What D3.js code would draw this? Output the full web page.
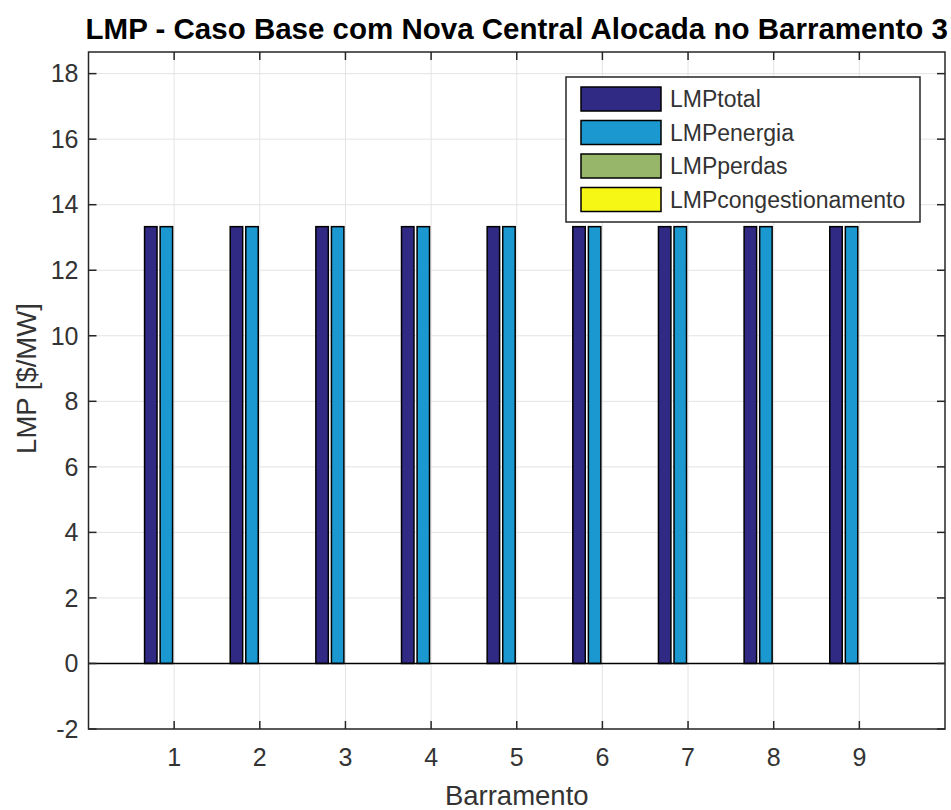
<!DOCTYPE html>
<html>
<head>
<meta charset="utf-8">
<script src="https://cdn.jsdelivr.net/npm/d3@7"></script>
<style>
  html, body { margin: 0; padding: 0; background: #fff; }
  svg { display: block; }
  text { font-family: "Liberation Sans", Arial, Helvetica, sans-serif; }
</style>
</head>
<body>
<div id="chart"></div>
<script>
"use strict";
// bus numbers and LMP components ($/MW)
var barramentos = [1, 2, 3, 4, 5, 6, 7, 8, 9];
var lmpTotal = [13.33, 13.33, 13.33, 13.33, 13.33, 13.33, 13.33, 13.33, 13.33];
var lmpEnergia = [13.33, 13.33, 13.33, 13.33, 13.33, 13.33, 13.33, 13.33, 13.33];
var lmpPerdas = [0, 0, 0, 0, 0, 0, 0, 0, 0];
var lmpCongest = [0, 0, 0, 0, 0, 0, 0, 0, 0];
var seriesNames = ["LMPtotal", "LMPenergia", "LMPperdas", "LMPcongestionamento"];
var yTicks = [-2, 0, 2, 4, 6, 8, 10, 12, 14, 16, 18];

var colors = ["#302a84", "#1a98cf", "#98b66a", "#f7f716"];
var seriesData = [lmpTotal, lmpEnergia, lmpPerdas, lmpCongest];

var W = 951, H = 810;
var m = {left: 88.5, right: 945, top: 52, bottom: 729};

var svg = d3.select("#chart").append("svg")
  .attr("width", W)
  .attr("height", H);

var x = d3.scaleLinear().domain([0, 10]).range([m.left, m.right]);
var y = d3.scaleLinear().domain([-2, 18.66]).range([m.bottom, m.top]);

var axisColor = "#262626";

// grid
svg.append("g").selectAll("line.gx")
  .data(barramentos)
  .enter().append("line")
  .attr("x1", function(d) { return x(d); })
  .attr("x2", function(d) { return x(d); })
  .attr("y1", m.top).attr("y2", m.bottom)
  .attr("stroke", "#e3e3e3").attr("stroke-width", 1);
svg.append("g").selectAll("line.gy")
  .data(yTicks)
  .enter().append("line")
  .attr("y1", function(d) { return y(d); })
  .attr("y2", function(d) { return y(d); })
  .attr("x1", m.left).attr("x2", m.right)
  .attr("stroke", "#e3e3e3").attr("stroke-width", 1);

// grouped bars, matlab style offsets
var n = seriesData.length;
var groupWidth = Math.min(0.8, n / (n + 1.5));
var barW = groupWidth / n * 0.8;
var bars = svg.append("g");
seriesData.forEach(function(vals, s) {
  var off = -groupWidth / 2 + (2 * s + 1) * groupWidth / (2 * n);
  bars.selectAll("rect.s" + s)
    .data(vals)
    .enter().append("rect")
    .attr("class", "s" + s)
    .attr("x", function(d, i) { return x(barramentos[i] + off - barW / 2); })
    .attr("width", function() { return x(barW) - x(0); })
    .attr("y", function(d) { return y(Math.max(0, d)); })
    .attr("height", function(d) { return Math.abs(y(d) - y(0)); })
    .attr("fill", colors[s])
    .attr("stroke", "#000")
    .attr("stroke-width", 1.5);
});

// baseline
svg.append("line")
  .attr("x1", m.left).attr("x2", m.right)
  .attr("y1", y(0)).attr("y2", y(0))
  .attr("stroke", "#000").attr("stroke-width", 1.5);

// box
svg.append("rect")
  .attr("x", m.left).attr("y", m.top)
  .attr("width", m.right - m.left).attr("height", m.bottom - m.top)
  .attr("fill", "none").attr("stroke", axisColor).attr("stroke-width", 1.5);

// ticks (inside) on all four sides
var tl = 8;
var ticks = svg.append("g").attr("stroke", axisColor).attr("stroke-width", 1.5);
barramentos.forEach(function(d) {
  ticks.append("line").attr("x1", x(d)).attr("x2", x(d)).attr("y1", m.bottom).attr("y2", m.bottom - tl);
  ticks.append("line").attr("x1", x(d)).attr("x2", x(d)).attr("y1", m.top).attr("y2", m.top + tl);
});
yTicks.forEach(function(d) {
  ticks.append("line").attr("y1", y(d)).attr("y2", y(d)).attr("x1", m.left).attr("x2", m.left + tl);
  ticks.append("line").attr("y1", y(d)).attr("y2", y(d)).attr("x1", m.right).attr("x2", m.right - tl);
});

// tick labels
svg.append("g").selectAll("text")
  .data(yTicks)
  .enter().append("text")
  .attr("x", m.left - 10)
  .attr("y", function(d) { return y(d); })
  .attr("dy", "0.35em")
  .attr("text-anchor", "end")
  .attr("font-size", 25)
  .attr("fill", "#333")
  .text(function(d) { return d; });
svg.append("g").selectAll("text")
  .data(barramentos)
  .enter().append("text")
  .attr("x", function(d) { return x(d); })
  .attr("y", 766)
  .attr("text-anchor", "middle")
  .attr("font-size", 25)
  .attr("fill", "#333")
  .text(function(d) { return d; });

// axis labels
svg.append("text")
  .attr("x", (m.left + m.right) / 2)
  .attr("y", 805)
  .attr("text-anchor", "middle")
  .attr("font-size", 27.5)
  .attr("fill", "#333")
  .text("Barramento");
svg.append("text")
  .attr("transform", "translate(36," + ((m.top + m.bottom) / 2 - 12) + ") rotate(-90)")
  .attr("text-anchor", "middle")
  .attr("font-size", 27.5)
  .attr("fill", "#333")
  .text("LMP [$/MW]");

// title
svg.append("text")
  .attr("x", (m.left + m.right) / 2)
  .attr("y", 39)
  .attr("text-anchor", "middle")
  .attr("font-size", 29.5)
  .attr("font-weight", "bold")
  .attr("fill", "#000")
  .text("LMP - Caso Base com Nova Central Alocada no Barramento 3");

// legend
var leg = svg.append("g");
leg.append("rect")
  .attr("x", 566).attr("y", 77)
  .attr("width", 354).attr("height", 145)
  .attr("fill", "#fff").attr("stroke", axisColor).attr("stroke-width", 1.5);
seriesNames.forEach(function(name, i) {
  var ry = 87 + i * 33.5;
  leg.append("rect")
    .attr("x", 581).attr("y", ry)
    .attr("width", 80).attr("height", 24)
    .attr("fill", colors[i]).attr("stroke", "#000").attr("stroke-width", 1.5);
  leg.append("text")
    .attr("x", 670).attr("y", ry + 12)
    .attr("dy", "0.35em")
    .attr("font-size", 23)
    .attr("fill", "#333")
    .text(name);
});
</script>
</body>
</html>
